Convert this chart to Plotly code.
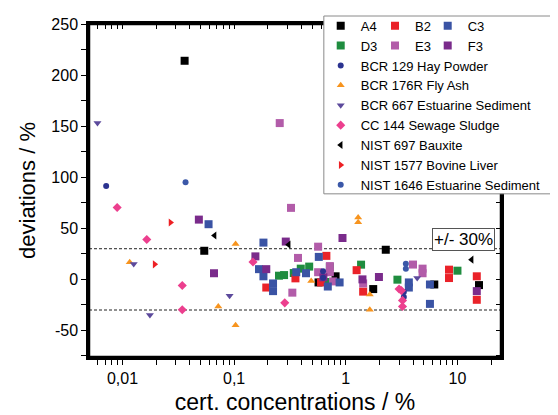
import plotly.graph_objects as go

# certified concentration (%) vs. deviation (%)
a4_x = [0.036, 0.054, 0.57, 0.81, 1.76, 2.28, 6.2, 15.6]
a4_y = [214, 28, -3, 3, -9.5, 29, -5, -5.6]
b2_x = [0.194, 0.354, 0.6, 0.67, 1.25, 1.43, 8.4, 8.4, 14.9, 14.9]
b2_y = [-8, 1, -3, 23, 9, -12, 9.5, 1.3, 3, -20]
c3_x = [0.059, 0.183, 0.167, 0.183, 0.223, 0.223, 0.36, 0.44, 0.573, 0.69, 0.88, 3.67, 3.67, 5.67, 5.67]
c3_y = [54, 36, 10, 3, -4, -11.5, 7, 6, 22, -7, -3, -3, -8, -5, -24]
d3_x = [0.252, 0.28, 0.342, 0.395, 0.47, 0.66, 0.72, 1.37, 2.9, 10.0]
d3_y = [3.6, 4.2, 6.2, 10.5, 12.5, -2.6, 12, 14.4, -0.3, 8.5]
e3_x = [0.256, 0.323, 0.373, 0.332, 0.565, 0.565, 0.72, 0.72, 0.77, 1.43, 4.0, 4.87, 4.87]
e3_y = [153, 70, 21, -13, 32, 7, 13, 7, -2, -4, 14.5, 10.5, 6]
f3_x = [0.0483, 0.066, 0.155, 0.194, 0.29, 0.63, 0.934, 1.41, 1.98, 14.9]
f3_y = [58.5, 6, 22.5, 10, 37, 2, 40.5, 0, 2.3, -11.5]

bcr129_x = [0.00714, 0.626, 0.626, 3.31, 3.31]
bcr129_y = [91.5, 8, 1.6, -12.4, -17.3]
bcr176_x = [0.0116, 0.0721, 0.103, 0.103, 0.49, 1.29, 1.29, 1.64, 1.64]
bcr176_y = [16.7, -26.5, 34.6, -44.8, -1.7, 60.5, 56, -14.7, -29.7]
bcr667_x = [0.00597, 0.0126, 0.0176, 0.091, 4.36]
bcr667_y = [153, 15, -35, -16, 1.3]
cc144_x = [0.00896, 0.0165, 0.0343, 0.0343, 0.1475, 0.284, 3.0, 3.15, 3.22, 3.22]
cc144_y = [70.3, 39, -6, -29.7, 17, -23, -9.5, -11, -20.6, -26.5]
nist697_x = [0.0668, 0.308, 13.4]
nist697_y = [43, 34, 19.3]
nist1577_x = [0.0194, 0.0269]
nist1577_y = [14.7, 55.6]
nist1646_x = [0.0367, 3.45, 3.45]
nist1646_y = [95, 15.4, 10.5]

limit = 30
x_major = {0.01: "0,01", 0.1: "0,1", 1: "1", 10: "10"}
x_minor = [0.006, 0.007, 0.008, 0.009] + [k / 100 for k in range(2, 10)] + \
          [k / 10 for k in range(2, 10)] + list(range(2, 10)) + [20]
y_ticks = [-75, -50, -25, 0, 25, 50, 75, 100, 125, 150, 175, 200, 225, 250]

x_tickvals = sorted(list(x_major) + x_minor)
x_ticktext = [x_major.get(v, "") for v in x_tickvals]
y_ticktext = [str(v) if v % 50 == 0 else "" for v in y_ticks]

FONT = "Liberation Sans, Arial, sans-serif"

series = [
    ("A4", a4_x, a4_y, "square", "#000000", 8, "legend"),
    ("D3", d3_x, d3_y, "square", "#1f8d3f", 8, "legend"),
    ("B2", b2_x, b2_y, "square", "#ea2229", 8, "legend2"),
    ("E3", e3_x, e3_y, "square", "#b25ca9", 8, "legend2"),
    ("C3", c3_x, c3_y, "square", "#3a53a4", 8, "legend3"),
    ("F3", f3_x, f3_y, "square", "#7a2b8b", 8, "legend3"),
    ("BCR 129 Hay Powder", bcr129_x, bcr129_y, "circle", "#2b3390", 6, "legend4"),
    ("BCR 176R Fly Ash", bcr176_x, bcr176_y, "triangle-up", "#f7941e", 7, "legend4"),
    ("BCR 667 Estuarine Sediment", bcr667_x, bcr667_y, "triangle-down", "#5c4a9c", 7, "legend4"),
    ("CC 144 Sewage Sludge", cc144_x, cc144_y, "diamond", "#ec3f8e", 7, "legend4"),
    ("NIST 697 Bauxite", nist697_x, nist697_y, "triangle-left", "#000000", 7, "legend4"),
    ("NIST 1577 Bovine Liver", nist1577_x, nist1577_y, "triangle-right", "#ed2024", 7, "legend4"),
    ("NIST 1646 Estuarine Sediment", nist1646_x, nist1646_y, "circle", "#3b58a8", 6, "legend4"),
]

fig = go.Figure()
for name, xs, ys, sym, col, size, leg in series:
    fig.add_trace(go.Scatter(
        x=xs, y=ys, mode="markers", name=name, legend=leg,
        marker=dict(symbol=sym, color=col, size=size, line=dict(width=0)),
    ))

# invisible copy on the top/right axes so they get drawn (ticks pointing inward)
fig.add_trace(go.Scatter(x=a4_x, y=a4_y, xaxis="x2", yaxis="y2", mode="markers",
                         marker=dict(opacity=0), showlegend=False, hoverinfo="skip"))

# +/- 30 % band
for lim in (limit, -limit):
    fig.add_shape(type="line", xref="paper", x0=0, x1=1, yref="y", y0=lim, y1=lim,
                  line=dict(color="#222222", width=1, dash="3px,2px"), layer="below")

# plot frame
fig.add_shape(type="rect", xref="paper", yref="paper", x0=0, x1=1, y0=0, y1=1,
              line=dict(color="#000000", width=2.5), layer="above")

# white legend box
fig.add_shape(type="rect", xref="paper", yref="paper", x0=0.570, x1=1.15, y0=0.49, y1=1.024,
              fillcolor="white", line=dict(color="#8a8a8a", width=1), layer="above")

fig.add_annotation(text="+/- 30%", xref="paper", x=0.985, yref="y", y=39, showarrow=False,
                   font=dict(size=17, color="black", family=FONT), bgcolor="white",
                   bordercolor="#555555", borderwidth=1, borderpad=1)

xr = [-2.3, 1.39]
yr = [-76, 250]
leg_common = dict(bgcolor="rgba(0,0,0,0)", borderwidth=0, font=dict(size=13, family=FONT, color="black"),
                  xanchor="left", yanchor="top", tracegroupgap=0)
axis_common = dict(showgrid=False, zeroline=False, showline=True, linecolor="#000000", linewidth=2.5,
                   ticklen=5, tickwidth=1.2, tickcolor="#000000")

# page has an 8px body margin, so the figure is 8px smaller
fig.update_layout(
    width=550, height=407,
    margin=dict(l=81, r=57, t=16, b=58, autoexpand=False),
    paper_bgcolor="white", plot_bgcolor="white",
    font=dict(family=FONT, color="black"),
    xaxis=dict(
        type="log", range=xr, ticks="outside",
        tickvals=x_tickvals, ticktext=x_ticktext, tickfont=dict(size=16),
        title=dict(text="cert. concentrations / %", font=dict(size=23), standoff=15),
        **axis_common,
    ),
    xaxis2=dict(
        type="log", range=xr, overlaying="x", side="top", anchor="y2", ticks="inside",
        tickvals=x_tickvals, showticklabels=False, **axis_common,
    ),
    yaxis=dict(
        range=yr, ticks="outside",
        tickvals=y_ticks, ticktext=y_ticktext, tickfont=dict(size=16),
        title=dict(text="deviations / %", font=dict(size=22), standoff=10),
        **axis_common,
    ),
    yaxis2=dict(
        range=yr, overlaying="y", side="right", anchor="x2", ticks="inside",
        tickvals=y_ticks, showticklabels=False, **axis_common,
    ),
    legend=dict(x=0.5624, y=1.040, **leg_common),
    legend2=dict(x=0.6942, y=1.040, **leg_common),
    legend3=dict(x=0.8221, y=1.040, **leg_common),
    legend4=dict(x=0.5624, y=0.9204, **leg_common),
)

fig.write_html("out.html")
